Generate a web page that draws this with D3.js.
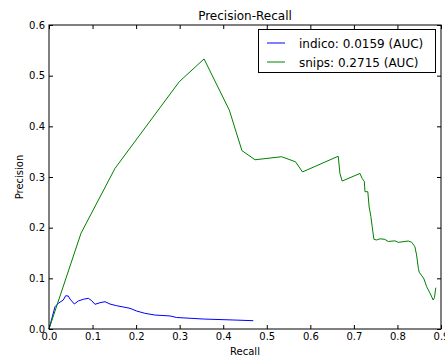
<!DOCTYPE html>
<html>
<head>
<meta charset="utf-8">
<script src="https://cdn.jsdelivr.net/npm/d3@7"></script>
<style>
  body { margin: 0; background: #fff; }
  svg { display: block; font-family: "DejaVu Sans", sans-serif; }
</style>
</head>
<body>
<svg id="chart" width="445" height="356"></svg>
<script>
// precision-recall curves
const indicoRecall = [0, 0.0138, 0.0214, 0.0328, 0.0383, 0.0443, 0.0482, 0.0581, 0.0673, 0.0788, 0.0902, 0.098, 0.1056, 0.1171, 0.1286, 0.140, 0.155, 0.1745, 0.186, 0.201, 0.220, 0.243, 0.278, 0.293, 0.354, 0.422, 0.469];
const indicoPrecision = [0, 0.044, 0.0507, 0.0572, 0.0657, 0.0651, 0.0592, 0.0493, 0.0553, 0.0586, 0.0606, 0.0559, 0.0487, 0.0519, 0.0539, 0.0493, 0.046, 0.0428, 0.0408, 0.0355, 0.031, 0.0276, 0.0257, 0.0227, 0.0197, 0.0178, 0.0164];

const snipsRecall = [0, 0.0735, 0.1515, 0.299, 0.356, 0.414, 0.443, 0.473, 0.534, 0.566, 0.582, 0.664, 0.668, 0.673, 0.714, 0.719, 0.724, 0.7255, 0.732, 0.735, 0.739, 0.742, 0.746, 0.752, 0.760, 0.771, 0.779, 0.794, 0.802, 0.825, 0.833, 0.840, 0.844, 0.848, 0.850, 0.856, 0.861, 0.867, 0.871, 0.875, 0.882, 0.885, 0.888];
const snipsPrecision = [0, 0.189, 0.317, 0.488, 0.533, 0.432, 0.352, 0.334, 0.340, 0.330, 0.310, 0.341, 0.307, 0.292, 0.307, 0.297, 0.291, 0.271, 0.271, 0.241, 0.222, 0.202, 0.177, 0.1757, 0.178, 0.177, 0.1727, 0.174, 0.171, 0.1737, 0.171, 0.1624, 0.146, 0.1198, 0.112, 0.105, 0.0987, 0.0835, 0.077, 0.0705, 0.0572, 0.0618, 0.0815];

const xTicks = [0, 0.1, 0.2, 0.3, 0.4, 0.5, 0.6, 0.7, 0.8, 0.9];
const yTicks = [0, 0.1, 0.2, 0.3, 0.4, 0.5, 0.6];

const series = [
  { name: 'indico: 0.0159 (AUC)', color: '#0000ff', recall: indicoRecall, precision: indicoPrecision },
  { name: 'snips: 0.2715 (AUC)', color: '#008000', recall: snipsRecall, precision: snipsPrecision }
];

const svg = d3.select('#chart');
const margin = { left: 49, right: 441, top: 25, bottom: 329 };

const x = d3.scaleLinear().domain([0, 0.9]).range([margin.left, margin.right]);
const y = d3.scaleLinear().domain([0, 0.6]).range([margin.bottom, margin.top]);

// inward ticks on all four sides, like matplotlib classic
svg.append('g')
  .attr('transform', `translate(0,${margin.bottom})`)
  .call(d3.axisBottom(x).tickValues(xTicks).tickFormat(d3.format('.1f')).tickSize(-4).tickPadding(4))
  .call(g => g.select('.domain').remove());
svg.append('g')
  .attr('transform', `translate(0,${margin.top})`)
  .call(d3.axisTop(x).tickValues(xTicks).tickFormat('').tickSize(-4))
  .call(g => g.select('.domain').remove());
svg.append('g')
  .attr('transform', `translate(${margin.left},0)`)
  .call(d3.axisLeft(y).tickValues(yTicks).tickFormat(d3.format('.1f')).tickSize(-4).tickPadding(4))
  .call(g => g.select('.domain').remove());
svg.append('g')
  .attr('transform', `translate(${margin.right},0)`)
  .call(d3.axisRight(y).tickValues(yTicks).tickFormat('').tickSize(-4))
  .call(g => g.select('.domain').remove());

svg.selectAll('.tick text').attr('font-size', 10).attr('fill', '#000')
  .attr('font-family', '"DejaVu Sans", sans-serif');
svg.selectAll('.tick line').attr('stroke', '#000');

const line = d3.line()
  .x(d => x(d[0]))
  .y(d => y(d[1]));

series.forEach(s => {
  svg.append('path')
    .datum(d3.zip(s.recall, s.precision))
    .attr('fill', 'none')
    .attr('stroke', s.color)
    .attr('stroke-width', 1)
    .attr('d', line);
});

// frame
svg.append('rect')
  .attr('x', margin.left).attr('y', margin.top)
  .attr('width', margin.right - margin.left).attr('height', margin.bottom - margin.top)
  .attr('fill', 'none').attr('stroke', '#000').attr('stroke-width', 1);

svg.append('text')
  .attr('x', (margin.left + margin.right) / 2).attr('y', 20)
  .attr('text-anchor', 'middle').attr('font-size', 12)
  .text('Precision-Recall');

svg.append('text')
  .attr('x', (margin.left + margin.right) / 2).attr('y', 355)
  .attr('text-anchor', 'middle').attr('font-size', 10)
  .text('Recall');

svg.append('text')
  .attr('transform', `translate(23,${(margin.top + margin.bottom) / 2}) rotate(-90)`)
  .attr('text-anchor', 'middle').attr('font-size', 10)
  .text('Precision');

// legend
const legend = svg.append('g');
legend.append('rect')
  .attr('x', 258.5).attr('y', 29.5).attr('width', 177).attr('height', 43)
  .attr('fill', '#fff').attr('stroke', '#000').attr('stroke-width', 1);

series.forEach((s, i) => {
  const ly = 43 + i * 19;
  legend.append('line')
    .attr('x1', 267).attr('x2', 285).attr('y1', ly).attr('y2', ly)
    .attr('stroke', s.color).attr('stroke-width', 1);
  legend.append('text')
    .attr('x', 299).attr('y', ly + 4.5)
    .attr('font-size', 12)
    .text(s.name);
});
</script>
</body>
</html>
